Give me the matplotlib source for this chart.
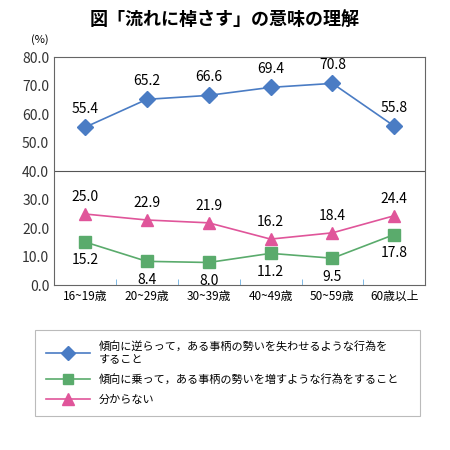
import matplotlib
matplotlib.use("Agg")
import matplotlib.pyplot as plt
from matplotlib.lines import Line2D

plt.rcParams['font.family'] = ['Noto Sans CJK JP', 'DejaVu Sans']

categories = ["16~19歳", "20~29歳", "30~39歳", "40~49歳", "50~59歳", "60歳以上"]
against = [55.4, 65.2, 66.6, 69.4, 70.8, 55.8]
along = [15.2, 8.4, 8.0, 11.2, 9.5, 17.8]
unknown = [25.0, 22.9, 21.9, 16.2, 18.4, 24.4]
labels = ["傾向に逆らって，ある事柄の勢いを失わせるような行為を\nすること",
          "傾向に乗って，ある事柄の勢いを増すような行為をすること",
          "分からない"]
yticks = [0, 10, 20, 30, 40, 50, 60, 70, 80]

fig = plt.figure(figsize=(4.5, 4.5), dpi=100)
ax = fig.add_axes([0.12, 0.366, 0.825, 0.507])
x = list(range(len(categories)))

ax.plot(x, against, color="#4a7cc4", marker="D", markersize=8, lw=1.2)
ax.plot(x, along, color="#5aab6c", marker="s", markersize=8, lw=1.2)
ax.plot(x, unknown, color="#e0559a", marker="^", markersize=9, lw=1.2)

for i in x:
    ax.text(i, against[i] + 4, f"{against[i]:.1f}", ha="center", va="bottom", fontsize=10)
    ax.text(i, unknown[i] + 3.5, f"{unknown[i]:.1f}", ha="center", va="bottom", fontsize=10)
    ax.text(i, along[i] - 4, f"{along[i]:.1f}", ha="center", va="top", fontsize=10)

ax.axhline(40, color="#555555", lw=0.8)
ax.set_xlim(-0.5, 5.5)
ax.set_ylim(0, 80)
ax.set_yticks(yticks)
ax.set_yticklabels([f"{v:.1f}" for v in yticks], fontsize=10, color="#333333")
ax.set_xticks(x)
ax.set_xticklabels(categories, fontsize=8.5)
ax.set_xticks([i + 0.5 for i in x[:-1]], minor=True)
ax.tick_params(axis="x", which="major", length=0)
ax.tick_params(axis="x", which="minor", length=4, direction="in", color="#6aaee0")
ax.tick_params(axis="y", length=0)
for s in ax.spines.values():
    s.set_color("#666666")
    s.set_linewidth(0.8)

fig.text(0.07, 0.905, "(%)", fontsize=8)
fig.text(0.5, 0.955, "図「流れに棹さす」の意味の理解", ha="center", va="center",
         fontsize=13, fontweight="bold")

handles = [
    Line2D([], [], color="#4a7cc4", marker="D", markersize=7, lw=1.2),
    Line2D([], [], color="#5aab6c", marker="s", markersize=7, lw=1.2),
    Line2D([], [], color="#e0559a", marker="^", markersize=8, lw=1.2),
]
leg = fig.legend(handles, labels, loc="upper left", bbox_to_anchor=(0.065, 0.01, 0.88, 0.268),
                 mode="expand", fontsize=8, frameon=True, fancybox=False,
                 handlelength=4, labelspacing=0.9, borderpad=1.0)
leg.get_frame().set_edgecolor("#aaaaaa")
leg.get_frame().set_linewidth(0.8)

fig.savefig("out.png", dpi=100)
